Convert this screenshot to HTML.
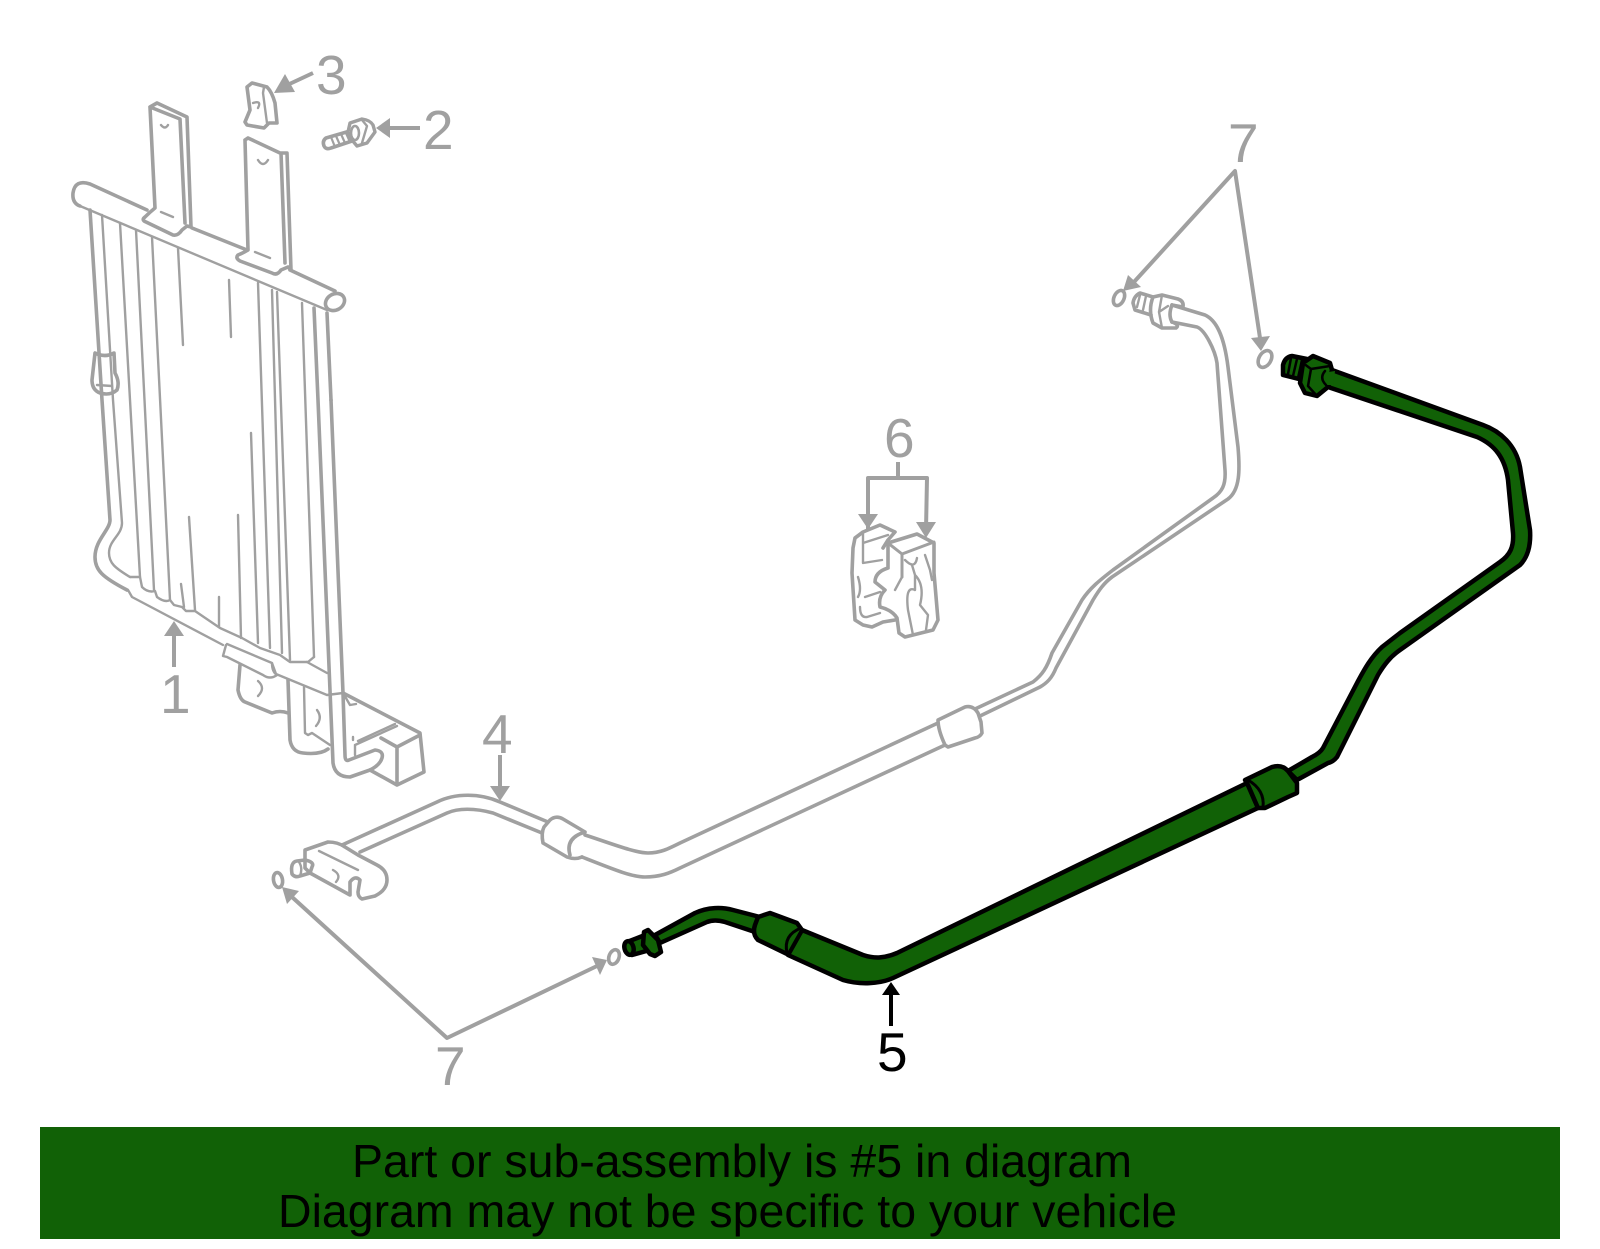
<!DOCTYPE html>
<html><head><meta charset="utf-8"><style>
html,body{margin:0;padding:0;background:#fff;width:1600px;height:1249px;overflow:hidden}
svg{display:block}
text{font-family:"Liberation Sans",sans-serif}
</style></head><body>
<svg width="1600" height="1249" viewBox="0 0 1600 1249" xmlns="http://www.w3.org/2000/svg">
<rect width="1600" height="1249" fill="#fff"/>
<!-- radiator -->
<g fill="none" stroke="#a0a0a0" stroke-linecap="round" stroke-linejoin="round">
<g stroke-width="3.6">
<path d="M147,210 L90,184 Q75,179 73,193 Q72,203 80,206"/>
<path d="M192,228 L247,250 M290,270 L335,291"/>
<ellipse cx="335" cy="302" rx="10" ry="8" transform="rotate(-30 335 302)"/>
<path d="M150,107 L155,208 Q150,212 145,217 Q141,220 146,222 L173,235 Q178,236 182,230 L187,226 L191,227 L187,117 L157,103 L150,107 L180,119 L185,223"/>
<path d="M245,140 L248,250 Q243,253 238,255 Q235,258 240,261 L272,273 Q277,276 281,270 L288,267 L291,270 L287,153 L280,153 L248,138 L245,140 M281,153 L285,263"/>
<path d="M90,210 L102,400 L110,520 C110,530 95,540 95,557 C95,570 102,577 127,590"/>
<path d="M331,400 L343,693 L345,755 Q345,762 349,760 L375,750 Q384,751 382,758 Q380,765 370,770 L350,777 Q335,777 333,763 L318,400 L314,308"/>
<path d="M327,313 L331,400"/>
<path d="M95,353 L92,380 Q92,390 100,393 Q110,396 117,390 Q120,382 115,373 L114,353 Q105,358 95,353 Z"/>
<path d="M240,665 L238,690 Q240,700 245,702 L272,713 Q280,710 288,713 M288,680 L290,740 Q292,752 303,753 Q320,755 328,749"/>
<path d="M343,693 L420,733 L424,772 L397,785 L370,770"/>
<path d="M397,747 L397,783 M381,738 L397,747 L420,735"/>
</g>
<g stroke-width="2.4">
<path d="M80,206 L327,310"/>
<path d="M102,215 L113,400 L122,523 C122,535 109,540 109,553 C109,563 115,568 130,577"/>
<path d="M120,223 L140,577 M136,230 L154,590 M152,237 L170,600 M178,248 L183,345 M229,280 L231,337 M258,283 L270,648 M272,290 L282,653 M277,292 L290,660 M302,303 L314,657"/>
<path d="M189,517 L195,610 M181,584 L184,607 M219,597 L219,627 M238,515 L241,638 M251,433 L258,643"/>
<path d="M130,577 L140,577 L142,587 Q148,593 155,591 L157,597 Q165,603 170,600 L174,605 L182,607 L186,611 L195,611 L220,628 L242,638 L260,648 L280,655 L290,662 L308,662 L314,657"/>
<path d="M128,590 L132,597 L223,645 M227,644 L272,663 M227,657 L263,675 M226,645 L223,656 L227,657 M272,663 L276,674 M263,675 Q270,680 277,675 Q272,672 272,663 M276,674 L327,695 L343,693 M307,662 L327,673"/>
<path d="M343,693 L350,705 L356,704 M353,737 L353,740 M358,741 L395,724 M355,745 L397,726 M355,745 L355,755"/>
<path d="M304,687 L305,733 L308,735 L312,733 L330,745"/>
<path d="M258,681 Q266,688 258,696 M317,710 Q323,718 316,726"/>
<path d="M161,125 Q165,130 168,125 M258,160 Q263,168 268,160 M161,212 L173,217 M255,252 L270,258 M97,385 L112,386"/>
</g>
<!-- clip 3 -->
<path stroke-width="3.6" d="M247,87 L252,83 L267,87 Q272,92 275,103 L277,123 L269,123 L264,128 L247,125 L245,122 L250,110 Z"/>
<path stroke-width="2.4" d="M264,87 L263,93 L267,123 M253,103 Q262,100 258,108"/>
<!-- bolt 2 -->
<path stroke-width="3.6" d="M350,131 L326,138 Q322,141 324,146 Q326,150 331,148 L355,140"/>
<path stroke-width="2.2" d="M331,137 L335,147 M336,136 L340,145 M341,134 L345,143 M346,133 L350,142"/>
<path stroke-width="3.4" fill="#fff" d="M350,123 L362,119 Q370,120 373,125 L375,132 L367,143 L357,146 L352,140 L348,132 Z"/>
<ellipse cx="355" cy="133" rx="4" ry="7" stroke-width="2.6"/>
<path stroke-width="2.4" d="M362,120 L367,126 L362,143"/>
<!-- clip 6 -->
<path stroke-width="3.6" d="M883,548 L888,540 L895,532 L880,525 L863,532 L855,538 L853,548 L852,573 L855,620 L863,625 L872,627 L883,622 L895,620"/>
<path stroke-width="3.6" d="M888,568 L888,543 L917,534 L934,543 L934,573 L938,620 L933,630 L905,637 L899,633 L897,618 Q892,610 880,607 Q878,597 885,590 L875,582 Q875,572 888,568"/>
<path stroke-width="3" d="M888,543 L902,554 L934,542 M902,554 L902,577"/>
<path stroke-width="2.4" d="M863,532 L863,563 L882,560 M863,543 L888,535 M858,577 Q862,590 858,597 M865,597 L880,592 M860,607 Q860,618 867,617 L880,613 M905,560 Q915,570 917,558 M912,565 L915,575 L915,590 Q905,585 908,610 L913,635 M915,575 Q925,585 920,605 L928,615 L926,630 M925,555 L930,570 L932,580 M902,577 L895,590"/>
<!-- pipe 4 -->
<g stroke-width="3.6">
<path d="M1172,305 L1205,315 C1216,320 1224,335 1228,367 L1238,447 C1240,470 1240,490 1228,499 L1112,577 C1104,583 1099,590 1093,600 L1056,668 C1052,678 1047,683 1040,687 L980,716"/>
<path d="M1172,322 L1197,327 C1205,330 1215,350 1217,363 L1225,470 C1226,485 1222,492 1213,498 L1113,570 C1100,580 1090,588 1082,600 L1052,653 C1047,668 1042,675 1033,682 L975,709"/>
<path d="M938,720 L965,707 Q973,705 978,713 L981,722 L982,733 Q980,737 975,738 L948,747 L945,745 Q938,730 938,720 Z"/>
<path d="M938,723 L680,843 C668,849 660,853 648,853 C635,853 610,843 585,835"/>
<path d="M945,745 L680,868 C670,873 660,877 645,877 C632,877 615,870 582,857"/>
<path d="M585,832 L563,819 Q556,815 550,820 L544,827 Q541,833 543,843 L567,857 Q575,860 582,857 M585,832 Q565,838 570,855"/>
<path d="M548,822 L500,802 C480,793 455,793 437,802 L342,845"/>
<path d="M542,833 L493,813 C475,808 458,808 447,813 L360,852"/>
<path d="M305,850 L328,842 Q338,842 345,847 L358,855 L377,865 Q387,870 387,880 Q387,890 375,896 L362,899 Q358,897 358,892 L360,880 Q355,875 350,882 L350,895 L310,873 L305,868 Z"/>
<path d="M305,860 L297,861 Q290,862 292,874 Q295,878 300,876 L310,873 L312,867 Q315,862 305,860"/>
<path d="M1172,305 Q1168,315 1172,322"/>
<path d="M1172,305 L1183,307 Q1184,301 1178,299 L1162,295 L1153,297 Q1148,310 1153,323 L1162,328 L1176,328 Q1180,325 1172,322"/>
<path d="M1153,297 L1140,293 Q1134,296 1133,303 L1135,310 L1151,315"/>
<ellipse cx="278" cy="880" rx="4.5" ry="7.5" transform="rotate(-10 278 880)"/>
<ellipse cx="614" cy="957" rx="5" ry="7.5" transform="rotate(20 614 957)"/>
<ellipse cx="1119" cy="298" rx="5" ry="8" transform="rotate(25 1119 298)"/>
<ellipse cx="1265" cy="359" rx="6" ry="9" transform="rotate(30 1265 359)"/>
</g>
<path stroke-width="2.4" d="M319,851 L358,870 M333,870 Q342,875 336,882 M299,862 Q303,868 300,876 M1140,295 L1137,307 M1146,296 L1143,310 M1162,295 L1159,312 L1162,328 M1159,312 L1168,306"/>
<!-- leaders -->
<g stroke-width="4" stroke-linecap="butt">
<path d="M174,667 L174,633 M313,73 L283,87 M420,128 L387,128 M898,462 L898,478 M868,530 L868,478 L927,478 L926,530 M500,755 L500,787"/>
<path d="M1134,282 L1235,171 L1260,338 M292,897 L447,1038 L597,966"/>
</g>
</g>
<g fill="#a0a0a0">
<polygon points="174,621 164,636 184,636"/>
<polygon points="274,93 295,92 285,74"/>
<polygon points="376,128 390,118 390,138"/>
<polygon points="868,529 858,514 878,514"/>
<polygon points="926,538 916,522 936,522"/>
<polygon points="500,801 490,786 510,786"/>
<polygon points="1123,291 1128,275 1141,287"/>
<polygon points="1261,351 1251,338 1270,336"/>
<polygon points="282,887 287,904 299,891"/>
<polygon points="607,960 592,957 600,975"/>
</g>
<g font-size="55" fill="#a0a0a0">
<text x="316" y="94">3</text>
<text x="423" y="149">2</text>
<text x="1228" y="162">7</text>
<text x="884" y="457">6</text>
<text x="160" y="713">1</text>
<text x="482" y="753">4</text>
<text x="435" y="1085">7</text>
</g>
<!-- green part -->
<g fill="#116106" stroke="#000" stroke-width="4.5" stroke-linejoin="round" stroke-linecap="round">
<path d="M655,935 L695,913 C708,907 722,907 733,910 L760,917 L755,932 L725,922 C718,920 712,920 707,922 L660,943 Z"/>
<path d="M802,930 L863,955 C875,959 885,958 897,953 L1247,783 L1258,808 L893,978 C880,984 860,985 843,980 L788,955 Z"/>
<path d="M758,917 L770,913 L797,923 L802,930 L787,954 L758,940 Q752,934 755,925 Z"/>
<path stroke-width="3" d="M801,928 Q783,935 787,953"/>
<path d="M1288,771 L1312,757 Q1320,753 1323,748 L1357,683 C1363,672 1370,658 1382,647 L1400,633 L1500,562 C1510,555 1514,547 1513,533 L1508,480 C1505,458 1495,445 1477,437 L1328,387 L1332,370 L1483,425 C1500,431 1516,445 1520,467 L1530,530 C1531,545 1528,557 1520,565 L1400,650 C1390,657 1384,665 1378,675 L1337,757 Q1333,762 1328,763 L1297,780 Z"/>
<path d="M1245,780 L1272,767 Q1282,764 1288,771 L1297,783 L1297,793 L1288,797 L1265,808 L1258,808 L1248,785 Z"/>
<path stroke-width="3" d="M1248,780 Q1265,790 1263,807"/>
<path d="M1307,359 L1292,356 Q1285,357 1283,365 L1283,375 L1303,380 Z"/>
<path stroke-width="2.5" d="M1291,358 L1288,374 M1297,359 L1293,376 M1302,360 L1298,378"/>
<path d="M1303,363 L1313,356 L1330,363 L1332,370 L1328,387 L1317,396 L1305,393 L1300,383 Z"/>
<path stroke-width="2.5" d="M1303,363 L1311,369 L1330,366 M1311,369 L1308,386 L1317,396"/>
<path stroke-width="0" d="M1322,373 L1335,371 L1333,385 L1322,385 Z"/>
<path stroke-width="2.5" d="M1325,371 Q1319,378 1326,385"/>
<path d="M627,942 L645,935 L650,950 L632,955 Z"/>
<ellipse cx="629" cy="948" rx="4.5" ry="7" transform="rotate(-15 629 948)"/>
<path d="M644,932 L648,930 L658,940 L661,952 L655,956 L650,954 L643,945 Z"/>
</g>
<text x="877" y="1071" font-size="55" fill="#000">5</text>
<path d="M891,1026 L891,992" stroke="#000" stroke-width="4" fill="none"/>
<polygon points="891,982 882,995 900,995" fill="#000"/>
<!-- banner -->
<rect x="40" y="1127" width="1520" height="112" fill="#116106"/>
<text x="352" y="1177" font-size="46" fill="#000" textLength="780" lengthAdjust="spacingAndGlyphs">Part or sub-assembly is #5 in diagram</text>
<text x="278" y="1227" font-size="46" fill="#000" textLength="899" lengthAdjust="spacingAndGlyphs">Diagram may not be specific to your vehicle</text>
</svg>
</body></html>
